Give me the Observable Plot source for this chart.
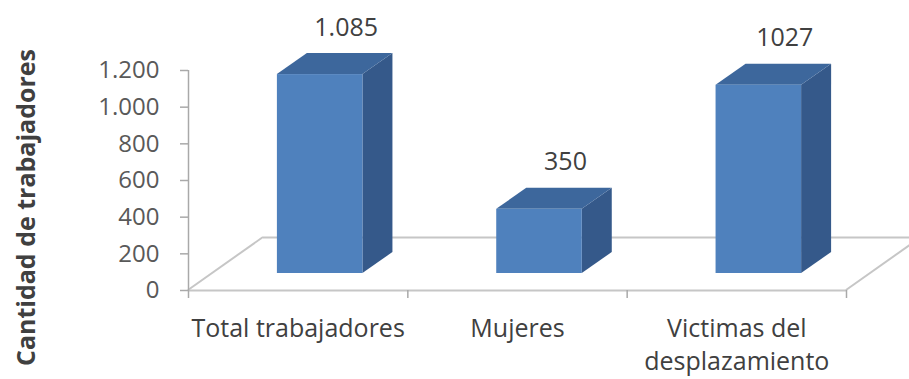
<!DOCTYPE html>
<html>
<head>
<meta charset="utf-8">
<script src="https://cdn.jsdelivr.net/npm/d3@7"></script>
<script src="https://cdn.jsdelivr.net/npm/@observablehq/plot@0.6"></script>
<style>
  html, body { margin: 0; padding: 0; background: #ffffff; }
  #chart svg { display: block; }
</style>
</head>
<body>
<div id="chart"></div>
<script>
const categories = ["Total trabajadores", "Mujeres", "Victimas del\ndesplazamiento"];
const values = [1085, 350, 1027];
const valueLabels = ["1.085", "350", "1027"];
const yTicks = [0, 200, 400, 600, 800, 1000, 1200];
const yTitle = "Cantidad de trabajadores";

const data = categories.map((c, i) => ({i, category: c, value: values[i], label: valueLabels[i]}));

const esFormat = d3.formatLocale({decimal: ",", thousands: ".", grouping: [3], currency: ["", ""]}).format(",");

const FONT = "'Open Sans', Lato, sans-serif";
const FRONT = "#4f81bd", SIDE = "#35598a", TOP = "#3d679c";
const GRID = "#c6c6c6", AXIS = "#a9a9a9", TXT = "#595959";
const BW = 0.39;               // bar width, in category units
const OFF = [22, -17];         // bar front offset into depth (px)
const DEPTH = [30, -21];       // bar depth (px)
const FLOOR = [75, -53];       // floor depth (px)

const floorEnds = [-0.5, categories.length - 0.5];

const chart = Plot.plot({
  width: 909,
  height: 379,
  marginLeft: 188,
  marginRight: 63,
  marginTop: 70,
  marginBottom: 89,
  style: {fontFamily: FONT, background: "#ffffff"},
  x: {type: "linear", domain: floorEnds, axis: null},
  y: {domain: [0, 1200], axis: null},
  marks: [
    // floor: back edge + diagonals
    Plot.ruleY([0], {x1: floorEnds[0], x2: floorEnds[1], dx: FLOOR[0], dy: FLOOR[1], stroke: GRID, strokeWidth: 2}),
    Plot.link(floorEnds, {
      x1: d => d, x2: d => d, y1: 0, y2: 0, stroke: GRID, strokeWidth: 2,
      render: (index, scales, v) => {
        const g = d3.create("svg:g").attr("stroke", GRID).attr("stroke-width", 2);
        for (const i of index) {
          g.append("line").attr("x1", v.x1[i]).attr("y1", v.y1[i])
            .attr("x2", v.x1[i] + FLOOR[0]).attr("y2", v.y1[i] + FLOOR[1]);
        }
        return g.node();
      }
    }),
    // front edge (x axis line)
    Plot.ruleY([0], {stroke: GRID, strokeWidth: 2}),
    Plot.axisX({ticks: [-0.5, 0.5, 1.5, 2.5], tickFormat: () => "", label: null, tickSize: 8, stroke: AXIS, strokeWidth: 1.5}),
    // y axis line and ticks
    Plot.ruleX([floorEnds[0]], {y1: 0, y2: 1200, stroke: AXIS, strokeWidth: 1.5}),
    Plot.axisY({ticks: yTicks, tickFormat: esFormat, label: null, tickSize: 8, tickPadding: 21, fontSize: 24, color: TXT, stroke: AXIS, strokeWidth: 1.5}),
    // 3D bars
    Plot.rect(data, {
      x1: d => d.i - BW / 2, x2: d => d.i + BW / 2, y1: 0, y2: "value",
      render: (index, scales, v) => {
        const g = d3.create("svg:g");
        for (const i of index) {
          const xl = v.x1[i] + OFF[0], xr = v.x2[i] + OFF[0];
          const yb = v.y1[i] + OFF[1], yt = v.y2[i] + OFF[1];
          const [ddx, ddy] = DEPTH;
          // side face
          g.append("polygon").attr("fill", SIDE)
            .attr("points", [[xr, yt], [xr + ddx, yt + ddy], [xr + ddx, yb + ddy], [xr, yb]].join(" "));
          // top face
          g.append("polygon").attr("fill", TOP)
            .attr("points", [[xl, yt], [xl + ddx, yt + ddy], [xr + ddx, yt + ddy], [xr, yt]].join(" "));
          // front face
          g.append("rect").attr("fill", FRONT)
            .attr("x", xl).attr("y", yt).attr("width", xr - xl).attr("height", yb - yt);
        }
        return g.node();
      }
    }),
    // value labels
    Plot.text(data, {x: "i", y: "value", text: "label", dx: 48, dy: -64, fontSize: 25, fill: "#404040"}),
    // category labels
    Plot.text(data, {x: "i", y: 0, text: "category", dy: 23, lineAnchor: "top", lineHeight: 1.32, fontSize: 25, fill: "#404040"}),
    // y title
    Plot.text([yTitle], {frameAnchor: "left", textAnchor: "middle", dx: -162, dy: 27, rotate: -90, fontSize: 25, fontWeight: "bold", fill: "#404040"})
  ]
});

document.getElementById("chart").append(chart);
</script>
</body>
</html>
